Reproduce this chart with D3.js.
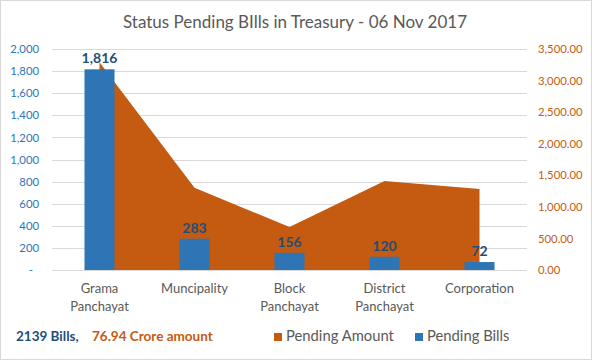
<!DOCTYPE html>
<html><head><meta charset="utf-8">
<script src="https://cdn.jsdelivr.net/npm/d3@7"></script>
<style>body{margin:0;background:#fff}svg{display:block}text{font-family:Lato,"Open Sans",sans-serif}</style>
</head><body>
<script>
const categories = ["Grama\nPanchayat","Muncipality","Block\nPanchayat","District\nPanchayat","Corporation"];
const pendingBills = [1816, 283, 156, 120, 72];
const pendingAmount = [3290, 1303, 681, 1409, 1283];
const leftTicks = [0,200,400,600,800,1000,1200,1400,1600,1800,2000];
const rightTicks = [0,500,1000,1500,2000,2500,3000,3500];
const title = "Status Pending BIlls in Treasury - 06 Nov 2017";
const summaryBills = "2139 Bills,";
const summaryAmount = "76.94 Crore amount";
const legendLabels = ["Pending Amount","Pending Bills"];

(function(){
const W=592,H=360;
const blue="#2E75B6", orange="#C55A11";
const svg=d3.select("body").append("svg").attr("width",W).attr("height",H);
svg.append("rect").attr("x",0.5).attr("y",0.5).attr("width",W-1).attr("height",H-1).attr("fill","#fff").attr("stroke","#d9d9d9");

const pL=52,pR=527,pT=49,pB=270;
const x=d3.scaleBand().domain(categories).range([pL,pR]).paddingInner(0.684).paddingOuter(0.342);
const yL=d3.scaleLinear().domain([0,2000]).range([pB,pT]);
const yR=d3.scaleLinear().domain([0,3500]).range([pB,pT]);

svg.append("g").selectAll("line").data(leftTicks).join("line")
  .attr("x1",pL).attr("x2",pR).attr("y1",d=>Math.round(yL(d))+0.5).attr("y2",d=>Math.round(yL(d))+0.5)
  .attr("stroke","#d9d9d9").attr("stroke-width",1);

const cx=c=>x(c)+x.bandwidth()/2;
const area=d3.area().x((d,i)=>cx(categories[i])).y0(pB).y1(d=>yR(d));
svg.append("path").datum(pendingAmount).attr("d",area).attr("fill",orange);

svg.append("g").selectAll("rect").data(pendingBills).join("rect")
  .attr("x",(d,i)=>x(categories[i])).attr("width",x.bandwidth())
  .attr("y",d=>yL(d)).attr("height",d=>pB-yL(d)).attr("fill",blue);

svg.append("g").selectAll("text").data(pendingBills).join("text")
  .attr("x",(d,i)=>cx(categories[i])).attr("y",d=>yL(d)-6)
  .attr("text-anchor","middle").attr("font-size",14).attr("font-weight","bold").attr("fill","#1F4E79")
  .text(d=>d3.format(",")(d));

const la=d3.axisLeft(yL).tickValues(leftTicks).tickSize(0).tickPadding(0).tickFormat(d=>d===0?"-":d3.format(",")(d));
const gl=svg.append("g").attr("transform",`translate(39,0)`).call(la);
gl.select(".domain").remove();
gl.selectAll("text").attr("font-size",11.3).attr("fill","#2E75B6").attr("font-family","Lato");
gl.selectAll(".tick").filter(d=>d===0).select("text").attr("dx",-6);

const ra=d3.axisRight(yR).tickValues(rightTicks).tickSize(0).tickPadding(0).tickFormat(d3.format(",.2f"));
const gr=svg.append("g").attr("transform",`translate(538,0)`).call(ra);
gr.select(".domain").remove();
gr.selectAll("text").attr("font-size",11.3).attr("fill",orange).attr("font-family","Lato");

svg.append("line").attr("x1",pL).attr("x2",pR).attr("y1",pB+0.5).attr("y2",pB+0.5).attr("stroke","#d9d9d9");

const cl=svg.append("g").selectAll("text").data(categories).join("text")
  .attr("x",c=>cx(c)).attr("y",293).attr("text-anchor","middle").attr("font-size",13).attr("fill","#595959");
cl.each(function(c){
  const t=d3.select(this);
  c.split("\n").forEach((s,i)=>t.append("tspan").attr("x",cx(c)).attr("dy",i?18:0).text(s));
});

svg.append("text").attr("x",295).attr("y",28).attr("text-anchor","middle").attr("font-size",17).attr("fill","#595959").text(title);

svg.append("text").attr("x",16).attr("y",341).attr("font-size",13.5).attr("font-weight","bold").attr("fill","#1F4E79").text(summaryBills);
svg.append("text").attr("x",92).attr("y",341).attr("font-size",13.5).attr("font-weight","bold").attr("fill",orange).text(summaryAmount);

const legColors=[orange,blue], legX=[274,415];
legendLabels.forEach((l,i)=>{
  svg.append("rect").attr("x",legX[i]).attr("y",333).attr("width",8).attr("height",8).attr("fill",legColors[i]);
  svg.append("text").attr("x",legX[i]+12).attr("y",341).attr("font-size",14.8).attr("fill","#595959").text(l);
});
})();
</script>
</body></html>
